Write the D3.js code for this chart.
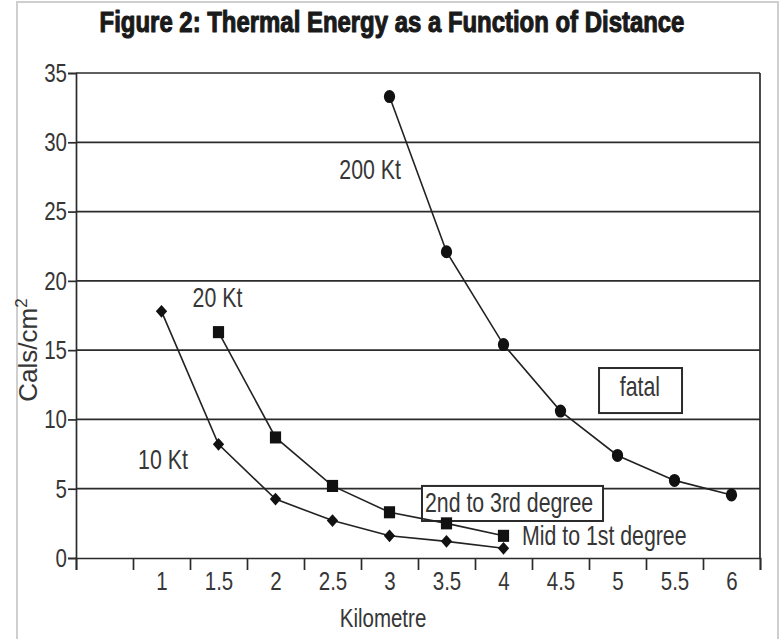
<!DOCTYPE html>
<html><head><meta charset="utf-8">
<script src="https://cdn.jsdelivr.net/npm/d3@7"></script>
<style>
html,body{margin:0;padding:0;background:#fff;}
svg{display:block;}
text{font-family:"Liberation Sans",Arial,sans-serif;}
</style></head><body>
<svg id="chart" width="783" height="639"></svg>
<script>
// ---- data ----
const chartTitle = "Figure 2: Thermal Energy as a Function of Distance";
const xTitle = "Kilometre";
const yTitle = "Cals/cm";
const xTickLabels = [1, 1.5, 2, 2.5, 3, 3.5, 4, 4.5, 5, 5.5, 6];
const yTickValues = [0, 5, 10, 15, 20, 25, 30, 35];

const dist10 = [1, 1.5, 2, 2.5, 3, 3.5, 4];
const cals10 = [17.8, 8.2, 4.25, 2.7, 1.6, 1.2, 0.7];
const dist20 = [1.5, 2, 2.5, 3, 3.5, 4];
const cals20 = [16.3, 8.7, 5.2, 3.3, 2.5, 1.6];
const dist200 = [3, 3.5, 4, 4.5, 5, 5.5, 6];
const cals200 = [33.3, 22.1, 15.4, 10.6, 7.4, 5.6, 4.55];

const seriesNames = ["10 Kt", "20 Kt", "200 Kt"];
const zoneNames = ["fatal", "2nd to 3rd degree", "Mid to 1st degree"];

// ---- layout ----
const plot = {left: 76, right: 760, top: 73, bottom: 558};
const svg = d3.select("#chart");
const ink = "#2b2b2b", textCol = "#363636";
const NARROW = 0.82;

const x = d3.scaleLinear().domain([0.25, 6.25]).range([plot.left, plot.right]);
const y = d3.scaleLinear().domain([0, 35]).range([plot.bottom, plot.top]);
const categoryEdges = d3.range(0, 13).map(i => 0.25 + i * 0.5);

// condense text horizontally (narrow face substitute)
function narrow(sel, sx, sy = 1.04) {
  sel.each(function () {
    const t = d3.select(this);
    const tx = +(t.attr("x") || 0), ty = +(t.attr("y") || 0);
    const prev = t.attr("transform") || "";
    t.attr("x", 0).attr("y", 0)
     .attr("transform", `${prev} translate(${tx},${ty}) scale(${sx},${sy})`);
  });
}

// outer frame
svg.append("rect").attr("x", 17).attr("y", 2).attr("width", 761).attr("height", 700)
  .attr("fill", "none").attr("stroke", "#cfcfcf").attr("stroke-width", 2);

// title
svg.append("text").attr("x", 392).attr("y", 32).attr("text-anchor", "middle")
  .attr("font-size", 29).attr("font-weight", "bold").attr("fill", "#1a1a1a")
  .attr("stroke", "#1a1a1a").attr("stroke-width", 1.1).attr("stroke-linejoin", "round")
  .text(chartTitle)
  .call(narrow, 0.825, 1);

// gridlines
svg.append("g").selectAll("line").data(yTickValues.filter(v => v > 0)).join("line")
  .attr("x1", plot.left).attr("x2", plot.right)
  .attr("y1", d => y(d)).attr("y2", d => y(d))
  .attr("stroke", ink).attr("stroke-width", 1.7);
svg.append("line").attr("x1", plot.right).attr("x2", plot.right)
  .attr("y1", plot.top).attr("y2", plot.bottom).attr("stroke", ink).attr("stroke-width", 1.7);

// y axis
const yAxis = svg.append("g").attr("transform", `translate(${plot.left},0)`)
  .call(d3.axisLeft(y).tickValues(yTickValues).tickSize(8).tickPadding(1));
yAxis.selectAll("path,line").attr("stroke", ink).attr("stroke-width", 1.7);
yAxis.selectAll("text").attr("font-size", 25).attr("fill", textCol)
  .attr("font-family", '"Liberation Sans",Arial,sans-serif').call(narrow, NARROW);

// x axis (category edges as ticks)
const xAxis = svg.append("g").attr("transform", `translate(0,${plot.bottom})`)
  .call(d3.axisBottom(x).tickValues(categoryEdges).tickSize(12).tickFormat(""));
xAxis.selectAll("path,line").attr("stroke", ink).attr("stroke-width", 1.7);
const xLab = svg.append("g").attr("transform", `translate(0,${plot.bottom})`)
  .call(d3.axisBottom(x).tickValues(xTickLabels).tickSize(0).tickPadding(14).tickFormat(d => String(d)));
xLab.select(".domain").remove();
xLab.selectAll("text").attr("font-size", 25).attr("fill", textCol)
  .attr("font-family", '"Liberation Sans",Arial,sans-serif').call(narrow, NARROW);

// axis titles
svg.append("text").attr("x", 383).attr("y", 627).attr("text-anchor", "middle")
  .attr("font-size", 25).attr("fill", textCol).text(xTitle).call(narrow, NARROW);
const yt = svg.append("text").attr("transform", "translate(37,350) rotate(-90)")
  .attr("text-anchor", "middle").attr("font-size", 26).attr("fill", textCol);
yt.append("tspan").text(yTitle);
yt.append("tspan").attr("font-size", 17).attr("dy", -10).text("2");

// zone boxes (data-space anchors)
function box(x0, x1, y0, y1) {
  svg.append("rect").attr("x", x(x0)).attr("y", y(y0))
    .attr("width", x(x1) - x(x0)).attr("height", y(y1) - y(y0))
    .attr("fill", "#fff").attr("stroke", ink).attr("stroke-width", 2);
}
box(4.838, 5.566, 13.71, 10.46);
box(3.285, 4.873, 5.2, 2.67);

function label(txt, xv, yv, anchor) {
  svg.append("text").attr("x", x(xv)).attr("y", y(yv)).attr("text-anchor", anchor)
    .attr("font-size", 26).attr("fill", textCol).text(txt).call(narrow, NARROW);
}
label(zoneNames[0], 5.197, 11.69, "middle");
label(zoneNames[1], 3.311, 3.34, "start");
label(zoneNames[2], 4.162, 0.94, "start");
label(seriesNames[0], 1.013, 6.42, "middle");
label(seriesNames[1], 1.491, 18.11, "middle");
label(seriesNames[2], 2.83, 27.35, "middle");

// series
const series = [
  {xs: dist10, ys: cals10, sym: d3.symbolSquare, size: 64, rot: 45, sy: 1.12},
  {xs: dist20, ys: cals20, sym: d3.symbolSquare, size: 125, rot: 0, sy: 1.08},
  {xs: dist200, ys: cals200, sym: d3.symbolCircle, size: 100, rot: 0, sy: 1.15}
];
const line = d3.line().x(d => x(d[0])).y(d => y(d[1]));
series.forEach(s => {
  const pts = s.xs.map((v, i) => [v, s.ys[i]]);
  svg.append("path").datum(pts).attr("d", line).attr("fill", "none")
    .attr("stroke", "#222").attr("stroke-width", 1.6);
  svg.append("g").selectAll("path").data(pts).join("path")
    .attr("d", d3.symbol(s.sym, s.size))
    .attr("transform", d => `translate(${x(d[0])},${y(d[1])}) scale(1,${s.sy}) rotate(${s.rot})`)
    .attr("fill", "#111");
});
</script>
</body></html>
